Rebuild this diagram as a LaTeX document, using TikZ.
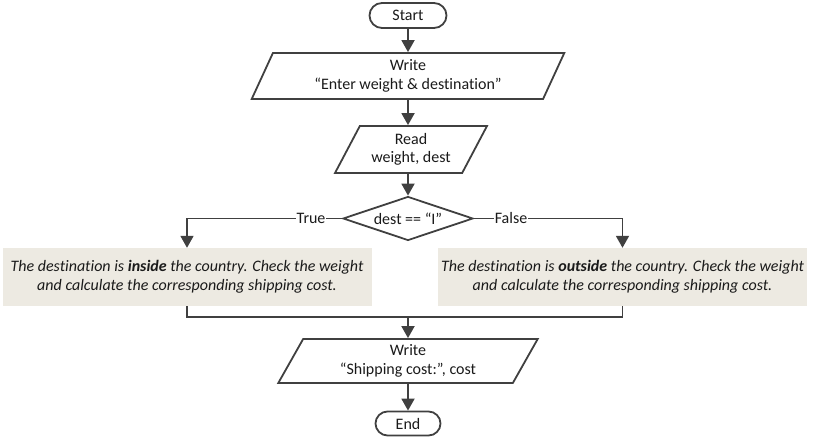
\documentclass[tikz,border=0pt]{standalone}
\usepackage{fontspec}
\setmainfont{Carlito}[Ligatures=NoCommon]
\usetikzlibrary{shapes.geometric,shapes.misc,arrows.meta}
\definecolor{ln}{HTML}{404040}
\definecolor{txt}{HTML}{1A1A1A}
\definecolor{boxfill}{HTML}{EDEAE2}
\begin{document}
\begin{tikzpicture}[x=1pt,y=-1pt,
  every node/.style={font=\fontsize{16}{18.5}\selectfont, text=txt},
  ln/.style={draw=ln, line width=1.8pt},
  arr/.style={ln, -{Triangle[length=12pt,width=13pt]}},
  term/.style={draw=ln, line width=1.8pt, rounded rectangle, minimum height=25pt, inner sep=0pt},
  io/.style={draw=ln, line width=1.8pt, trapezium, trapezium stretches=true, align=center, inner sep=0pt},
  dec/.style={draw=ln, line width=1.8pt, diamond, aspect=3, minimum width=130pt, minimum height=44pt, inner sep=0pt},
  proc/.style={fill=boxfill, minimum width=369pt, minimum height=58pt, align=center, inner sep=0pt, font=\fontsize{16}{18.5}\selectfont\itshape},
  lbl/.style={fill=white, inner sep=1pt}
]
\useasboundingbox (0,0) rectangle (813,443);
\node[term, minimum width=77pt] (start) at (408,15.5) {Start};
\node[io, minimum width=313pt, minimum height=46pt, trapezium left angle=65.5, trapezium right angle=114.5] (w1) at (408,76) {Write\\“Enter weight \& destination”};
\node[io, minimum width=152pt, minimum height=47pt, trapezium left angle=59.2, trapezium right angle=120.8] (rd) at (411,149.5) {Read\\weight, dest};
\node[dec] (dec) at (408,218.5) {dest == “I”};
\node[proc] (pl) at (187,277) {The destination is \textbf{inside} the country. Check the weight\\and calculate the corresponding shipping cost.};
\node[proc] (pr) at (622.5,277) {The destination is \textbf{outside} the country. Check the weight\\and calculate the corresponding shipping cost.};
\coordinate (m) at (408,317);
\node[io, minimum width=260pt, minimum height=44pt, trapezium left angle=63.4, trapezium right angle=116.6] (w3) at (408,361) {Write\\“Shipping cost:”, cost};
\node[term, minimum width=65pt, minimum height=24pt] (end) at (408,423.5) {End};

\draw[arr] (start) -- (w1);
\draw[arr] (w1) -- (rd.north -| w1.south);
\draw[arr] (rd.south -| dec.north) -- (dec);
\draw[arr] (dec.west) -| node[lbl, pos=0.1] {True} (pl.north);
\draw[arr] (dec.east) -| node[lbl, pos=0.125] {False} (pr.north);
\draw[ln] (pl.south) |- (m);
\draw[ln] (pr.south) |- (m);
\draw[arr] (m) -- (w3);
\draw[arr] (w3) -- (end);
\end{tikzpicture}
\end{document}
